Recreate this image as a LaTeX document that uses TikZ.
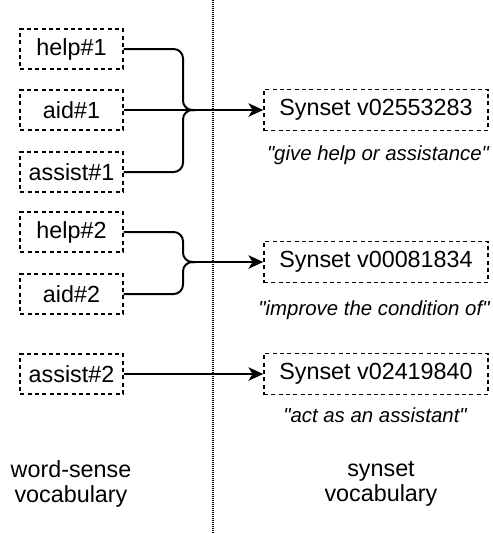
\documentclass[tikz,border=0pt]{standalone}
\usepackage{fontspec}
\setmainfont{Liberation Sans}[Ligatures=TeXOff]
\usetikzlibrary{arrows.meta}

\tikzset{every picture/.style={line width=0.75pt}}
\tikzset{
	sense/.style={draw, dash pattern={on 3pt off 2.5pt}, line width=1.2pt, minimum width=77pt, minimum height=30pt, inner sep=0.75pt, font=\fontsize{17.5}{20}\selectfont},
	synset/.style={sense, minimum width=168pt, minimum height=31pt},
	gloss/.style={inner sep=0.75pt, font=\fontsize{15.3}{17}\selectfont\itshape},
	label/.style={inner sep=0.75pt, align=center, font=\fontsize{17.5}{19}\selectfont},
	link/.style={line width=1.5pt, rounded corners=7pt},
	tip/.style={-{Stealth[length=11pt, width=10pt, inset=3pt]}}}

\begin{document}
\begin{tikzpicture}[x=0.75pt,y=0.75pt,yscale=-1,xscale=1]
	\useasboundingbox (0,0) rectangle (493,533);
	
	%Straight Lines: divider
	\draw [dash pattern={on 0.75pt off 0.75pt}, line width=1pt] (213,0) -- (213,533) ;
	
	%Shape: Rectangle (word senses)
	\node [sense] (help1) at (71.5,49) {help\#1};
	\node [sense] (aid1) at (71.5,110) {aid\#1};
	\node [sense] (assist1) at (71.5,172) {assist\#1};
	\node [sense] (help2) at (71.5,232) {help\#2};
	\node [sense] (aid2) at (71.5,294) {aid\#2};
	\node [sense] (assist2) at (71.5,374) {assist\#2};
	
	%Shape: Rectangle (synsets)
	\node [synset] (syn1) at (376,110) {Synset v02553283};
	\node [synset] (syn2) at (376,262) {Synset v00081834};
	\node [synset] (syn3) at (376,374) {Synset v02419840};
	
	% Text Node
	\node [gloss] (gloss1) at (378,155) {"give help or assistance"};
	% Text Node
	\node [gloss] (gloss2) at (374,310) {"improve the condition of"};
	% Text Node
	\node [gloss] (gloss3) at (375,415) {"act as an assistant"};
	
	% Text Node
	\node [label] (wsvocab) at (71,484) {word-sense\\vocabulary};
	% Text Node
	\node [label] (synvocab) at (381,484) {synset\\vocabulary};
	
	%merge points
	\coordinate (merge1) at (195,110);
	\coordinate (merge2) at (195,262);
	
	%Straight Lines
	\draw [link] (help1.east) -| (183,110) -- (merge1) ;
	\draw [link] (assist1.east) -| (183,110) -- (merge1) ;
	\draw [link, tip] (aid1.east) -- (syn1.west) ;
	\draw [link] (help2.east) -| (183,262) -- (merge2) ;
	\draw [link] (aid2.east) -| (183,262) -- (merge2) ;
	\draw [link, tip] (merge2) -- (syn2.west) ;
	\draw [link, tip] (assist2.east) -- (syn3.west) ;
	
\end{tikzpicture}
\end{document}
